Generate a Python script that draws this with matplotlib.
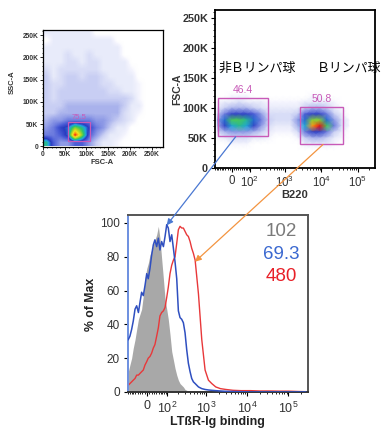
import numpy as np
import matplotlib
matplotlib.use("Agg")
import matplotlib.pyplot as plt
from matplotlib.colors import LinearSegmentedColormap
from matplotlib.ticker import MultipleLocator, FixedLocator
from matplotlib.patches import Rectangle

plt.rcParams['font.family'] = ['Liberation Sans', 'Noto Sans CJK JP', 'DejaVu Sans']
plt.rcParams['mathtext.fontset'] = 'custom'
plt.rcParams['mathtext.rm'] = 'Liberation Sans'
plt.rcParams['mathtext.default'] = 'rm'

# ---------------- data ----------------
# Panel 1: FSC-A vs SSC-A density (rows: high SSC -> low SSC; 16 bins over 0..262144)
fsc_ssc_density = [
    [1, 1, 1, 1, 1, 1, 1, 0, 0, 0, 0, 0, 0, 0, 0, 0],
    [0, 1, 1, 1, 1, 1, 1, 1, 1, 1, 0, 0, 0, 0, 0, 0],
    [1, 1, 1, 1, 1, 1, 1, 1, 1, 1, 1, 0, 0, 0, 0, 0],
    [1, 1, 1, 1.5, 1, 1, 1.5, 1, 1, 1, 1, 0, 0, 0, 0, 0],
    [1, 1, 1, 1.5, 1.5, 1, 1.5, 1.5, 1, 1, 1, 1, 0, 0, 0, 0],
    [1.5, 1, 1.5, 1.5, 1.5, 1.5, 1.5, 1.5, 1, 1, 1, 1, 0.5, 0, 0, 0],
    [2, 1, 1.5, 2, 2, 1.5, 2, 2, 1.5, 1, 1, 1, 1, 0, 0, 0],
    [2, 1.5, 1.5, 2, 2, 2, 2, 2, 1.5, 1.5, 1, 1, 1, 0.5, 0, 0],
    [2, 1.5, 2, 2, 2, 2, 2, 2, 2, 1.5, 1.5, 1, 1, 0.5, 0, 0],
    [2, 1.5, 2, 2, 2, 2, 2, 2, 2, 2, 2, 2, 1.5, 0.5, 0, 0],
    [2, 2, 2, 2.5, 2.5, 2.5, 2.5, 2.5, 2.5, 2.5, 2.5, 2, 1, 1, 0, 0],
    [2, 2, 2.5, 2.5, 2.5, 2.5, 2.5, 2.5, 2.5, 2.5, 2.5, 1.5, 1, 0.5, 0, 0],
    [2.5, 3, 3, 3.5, 3.5, 3.5, 3.5, 3, 3, 2.5, 2, 1.5, 1, 0, 0, 0],
    [3, 3.5, 4.5, 5, 7, 6, 4.5, 3.5, 3, 2, 1, 1, 0, 0, 0, 0],
    [3.5, 3.5, 4, 5, 10, 7, 4, 3, 2, 1, 1, 0.5, 0, 0, 0, 0],
    [6, 4, 3, 3, 4, 4, 3, 2, 1, 1, 0.5, 0, 0, 0, 0, 0],
]
gate_lymph = (57600, 11300, 109000, 54000)
pct_lymph = "75.5"

# Panel 2: B220 vs FSC-A density
b220_bins = [-76, -34, 0, 34, 76, 134, 221, 356, 568, 903, 1430, 2270, 3600,
             5700, 9040, 14300, 22700, 36000, 57000]
fsc_bins = [130000, 120000, 110000, 100000, 90000, 80000, 70000, 60000, 50000, 40000, 30000]
b220_density = [
    [0, 0, 0, 0, 0, 0, 0, 0, 0, 0, 0, 0, 0, 0, 0, 0, 0, 0, 0],
    [0, 0, 0.5, 0.5, 0.5, 0, 0, 0, 0, 0, 0, 0, 0, 0.5, 0.5, 0, 0, 0, 0],
    [0.5, 1, 1, 1.5, 1, 1, 1, 0.5, 0.5, 0.5, 0.5, 0.5, 1, 1, 1, 1, 0.5, 0, 0],
    [1, 2, 2.5, 2.5, 2.5, 2, 1.5, 1, 1, 1, 1, 1, 2, 2.5, 2.5, 2, 1, 0.5, 0],
    [2, 3.5, 4.5, 4.5, 4.5, 4, 3, 1.5, 1.5, 1.5, 1.5, 2, 4, 4.5, 4.5, 3.5, 2, 1, 0],
    [3, 5, 6.5, 6.5, 6, 5, 3.5, 2, 1.5, 1.5, 1.5, 3, 5, 7, 7, 5, 3, 1.5, 0.5],
    [2.5, 4.5, 5.5, 6, 5.5, 4.5, 3, 1.5, 1, 1, 1, 2.5, 5.5, 9, 10, 6.5, 3.5, 1.5, 0.5],
    [1.5, 2.5, 3, 3, 3, 2.5, 2, 1, 0.5, 0.5, 0.5, 1.5, 3.5, 4.5, 4.5, 3.5, 2, 1, 0],
    [0.5, 1, 1.5, 1.5, 1.5, 1, 1, 0.5, 0, 0, 0, 0.5, 2, 2.5, 2.5, 2, 1, 0.5, 0],
    [0, 0, 0.5, 0.5, 0.5, 0, 0, 0, 0, 0, 0, 0, 1, 1, 1, 1, 0.5, 0, 0],
    [0, 0, 0, 0, 0, 0, 0, 0, 0, 0, 0, 0, 0, 0, 0, 0, 0, 0, 0],
]
gate_nonb = (-69, 52700, 336, 117700)
gate_b = (2660, 40500, 39100, 102700)
pct_nonb = "46.4"
pct_b = "50.8"
label_nonb = "非Ｂリンパ球"
label_b = "Ｂリンパ球"

# Panel 3: LTbR-Ig binding histograms (% of max)
ltbr_x = [-90, -80, -70, -61, -52, -44, -36, -29, -22, -15, -8, -1, 5, 12, 19, 26, 33,
          41, 49, 57, 66, 76, 86, 97, 108, 121, 135, 150, 166, 184, 203, 224, 247,
          272, 300, 330, 363, 400, 439, 483, 533, 643, 775, 934, 1127, 1359,
          1700, 2200, 3000, 4500, 7000, 12000, 20000, 35000, 60000, 100000, 170000, 262000]
control_pct = [12, 16, 20, 26, 31, 37, 43, 46, 49, 57, 67, 73, 76, 81, 84, 87, 90,
               93, 98, 91, 79, 67, 55, 49, 43, 34, 24, 19, 14, 10, 7, 5, 4,
               3, 1.5, 1, 0.5, 0.3, 0.2, 0.1, 0, 0, 0, 0, 0, 0,
               0, 0, 0, 0, 0, 0, 0, 0, 0, 0, 0, 0]
nonb_pct = [31, 33, 37, 42, 49, 51, 47, 53, 59, 57, 63, 70, 67, 73, 81, 87, 90,
            86, 91, 84, 89, 86, 92, 99, 97, 89, 93, 85, 77, 67, 48, 44, 43,
            41, 35, 25, 17, 12, 8, 6, 5, 3, 2, 1.5, 1.2, 1,
            0.8, 0.6, 0.4, 0.3, 0.2, 0, 0, 0, 0, 0, 0, 0]
b_pct = [4, 5, 6, 7, 8, 10, 10, 11, 12, 13, 16, 18, 20, 21, 23, 26, 28,
         33, 38, 45, 47, 48, 50, 56, 62, 70, 75, 78, 80, 88, 96, 98, 97,
         97, 95, 93, 92, 89, 85, 82, 78, 58, 31, 13, 7, 5,
         3, 2, 1.5, 1, 0.8, 0.8, 0.6, 0.6, 0.5, 0.5, 0.3, 0.2]
mfi_values = ["102", "69.3", "480"]

# ---------------- styling ----------------
W, H = 387, 428
fig = plt.figure(figsize=(W / 100, H / 100), dpi=100)

def ftext(x, y, s, **kw):
    fig.text(x / W, 1 - y / H, s, **kw)

def axes_px(l, t, r, b):
    return fig.add_axes([l / W, 1 - b / H, (r - l) / W, (b - t) / H])

flow_cmap = LinearSegmentedColormap.from_list('flow', [
    (0.0, (1, 1, 1, 0)), (0.05, (0.96, 0.96, 0.995, 1)), (0.1, '#e8ebfa'),
    (0.2, '#c8cef3'), (0.3, '#8d99e6'), (0.4, '#4a5cd6'), (0.47, '#2a3cc0'),
    (0.54, '#20a2e2'), (0.63, '#2ec46a'), (0.72, '#9ed42a'), (0.82, '#f2e21e'),
    (0.9, '#ff9a10'), (1.0, '#e81010')])

C = 72.0
def biex_fwd(x):
    return np.arcsinh(np.asarray(x, dtype=float) / C) / np.log(10)
def biex_inv(y):
    return C * np.sinh(np.asarray(y, dtype=float) * np.log(10))

biex_major = [0, 1e2, 1e3, 1e4, 1e5]
biex_labels = ['0', '$10^{2}$', '$10^{3}$', '$10^{4}$', '$10^{5}$']
biex_minor = ([-v for v in range(10, 100, 10)] + list(range(10, 100, 10)) +
              list(range(200, 1000, 100)) + list(range(2000, 10000, 1000)) +
              list(range(20000, 100000, 10000)) + [200000])

gate_color = '#c85ab8'

# ---------------- panel 1 ----------------
ax1 = axes_px(43, 29.5, 163, 147)
ax1.imshow(np.array(fsc_ssc_density), extent=(0, 262144, 0, 262144), origin='upper',
           cmap=flow_cmap, vmin=0, vmax=10, interpolation='bilinear', aspect='auto')
ax1.set_xlim(0, 276000)
ax1.set_ylim(-1500, 262500)
x0, y0, x1, y1 = gate_lymph
ax1.add_patch(Rectangle((x0, y0), x1 - x0, y1 - y0, fill=False, ec=gate_color, lw=0.9))
ax1.text((x0 + x1) / 2, y1 + 3000, pct_lymph, color=gate_color, fontsize=5.5,
         ha='center', va='bottom')
k_ticks = [0, 50000, 100000, 150000, 200000, 250000]
k_labels = ['0', '50K', '100K', '150K', '200K', '250K']
ax1.set_xticks(k_ticks, k_labels, fontsize=4.8, fontweight='bold', color='#333333')
ax1.set_yticks(k_ticks, k_labels, fontsize=4.8, fontweight='bold', color='#333333')
ax1.xaxis.set_minor_locator(MultipleLocator(10000))
ax1.yaxis.set_minor_locator(MultipleLocator(10000))
ax1.tick_params(which='major', length=2, width=0.6, pad=1.2)
ax1.tick_params(which='minor', length=1, width=0.5)
for s in ax1.spines.values():
    s.set_linewidth(0.9)
ftext(12, 82, 'SSC-A', fontsize=5.5, fontweight='bold', rotation=90, ha='center', va='center', color='#333333')
ftext(102, 163, 'FSC-A', fontsize=5.5, fontweight='bold', ha='center', va='center', color='#333333')

# ---------------- panel 2 ----------------
ax2 = axes_px(215, 10, 375, 168)
ax2.set_xscale('function', functions=(biex_fwd, biex_inv))
ax2.pcolormesh(b220_bins, fsc_bins, np.array(b220_density), shading='gouraud',
               cmap=flow_cmap, vmin=0, vmax=10)
ax2.set_xlim(-92, 297000)
ax2.set_ylim(0, 264000)
for (gx0, gy0, gx1, gy1), pct in ((gate_nonb, pct_nonb), (gate_b, pct_b)):
    ax2.add_patch(Rectangle((gx0, gy0), gx1 - gx0, gy1 - gy0, fill=False, ec=gate_color, lw=1.0))
    xm = biex_inv((biex_fwd(gx0) + biex_fwd(gx1)) / 2)
    ax2.text(xm, gy1 + 5000, pct, color=gate_color, fontsize=7.5, ha='center', va='bottom')
ax2.set_yticks(k_ticks, k_labels, fontsize=7.8, fontweight='bold', color='#333333')
ax2.yaxis.set_minor_locator(MultipleLocator(10000))
ax2.set_xticks(biex_major, biex_labels, fontsize=8.3, color='#333333')
ax2.xaxis.set_minor_locator(FixedLocator(biex_minor))
ax2.tick_params(which='major', length=3, width=0.8, pad=2)
ax2.tick_params(which='minor', length=1.6, width=0.6)
for s in ax2.spines.values():
    s.set_linewidth(1.3)
ftext(177, 89, 'FSC-A', fontsize=7.5, fontweight='bold', rotation=90, ha='center', va='center', color='#333333')
ftext(295, 195, 'B220', fontsize=8, fontweight='bold', ha='center', va='center', color='#333333')
ftext(218, 68.5, label_nonb, fontsize=9.3, ha='left', va='center', family=['Noto Sans CJK JP'], zorder=5)
ftext(317, 68.5, label_b, fontsize=9.3, ha='left', va='center', family=['Noto Sans CJK JP'], zorder=5)

# ---------------- panel 3 ----------------
ax3 = axes_px(128, 215, 308, 392)
ax3.set_xscale('function', functions=(biex_fwd, biex_inv))
ax3.fill_between(ltbr_x, 0, control_pct, color='#a8a8a8', lw=0, zorder=1)
ax3.plot(ltbr_x, nonb_pct, color='#2f4fc0', lw=1.1, zorder=3)
ax3.plot(ltbr_x, b_pct, color='#e8383a', lw=1.0, zorder=2)
ax3.set_xlim(-92, 300000)
ax3.set_ylim(0, 104.7)
ax3.set_yticks([0, 20, 40, 60, 80, 100], ['0', '20', '40', '60', '80', '100'], fontsize=8.5, color='#333333')
ax3.set_xticks(biex_major, biex_labels, fontsize=9, color='#333333')
ax3.xaxis.set_minor_locator(FixedLocator(biex_minor))
ax3.tick_params(which='major', length=3, width=0.8, pad=3)
ax3.tick_params(which='minor', length=1.6, width=0.6)
for name, s in ax3.spines.items():
    s.set_linewidth(1.4)
    s.set_color('#555555')
ax3.spines['left'].set_color('#6d8fe0')
ax3.spines['bottom'].set_color('#333333')
ftext(91, 304, '% of Max', fontsize=8.8, fontweight='bold', rotation=90, ha='center', va='center', color='#222222')
ftext(217, 422, 'LTßR-Ig binding', fontsize=9, fontweight='bold', ha='center', va='center', color='#222222')
for txt, col, yy in zip(mfi_values, ['#7a7a7a', '#3a68d0', '#e82028'], [232, 254.5, 276.5]):
    ftext(281, yy, txt, fontsize=13.5, color=col, ha='center', va='center')

# ---------------- arrows ----------------
def arrow(start, end, color):
    fig.add_artist(matplotlib.patches.FancyArrowPatch(
        (start[0], H - start[1]), (end[0], H - end[1]), transform=None,
        arrowstyle='-|>', mutation_scale=9, color=color, lw=0.9, zorder=10,
        shrinkA=0, shrinkB=0))

arrow((235.7, 136.7), (166.7, 225.3), '#4a78d2')
arrow((323, 144.5), (195, 261.7), '#f39440')

fig.savefig('out.png', dpi=100)
